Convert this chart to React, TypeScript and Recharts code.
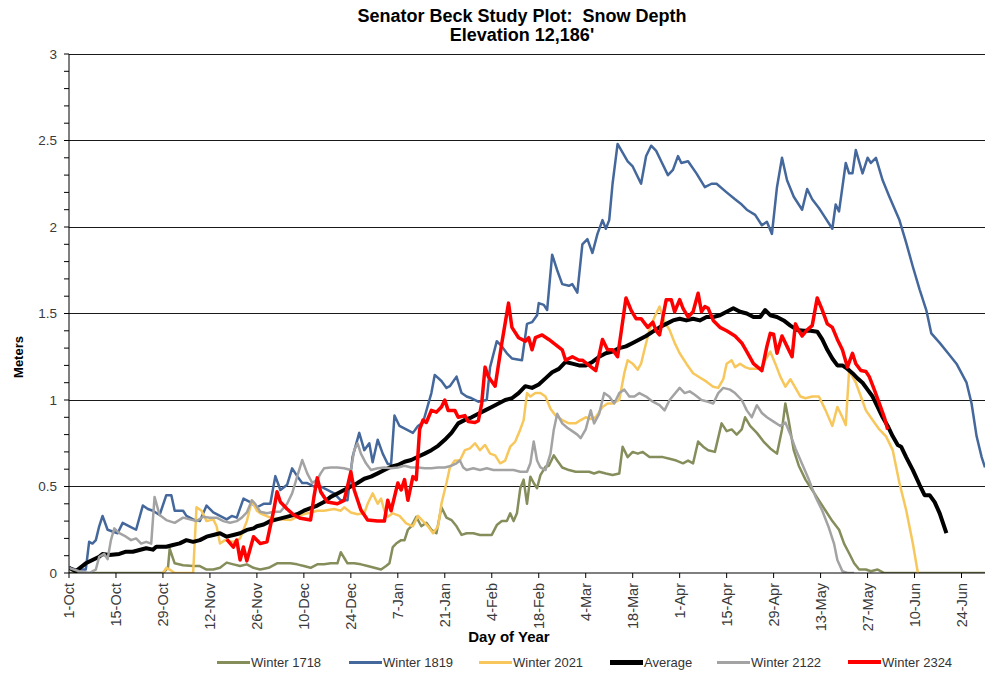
import React from 'react';
import { LineChart, Line, XAxis, YAxis, Legend, ReferenceLine, Label } from 'recharts';

// Snow depth readings at the Senator Beck study plot: [day of season (0 = 1-Oct), depth in meters]
type Reading = [number, number];

const winter1718: Reading[] = [
  [0, 0], [10, 0], [20, 0], [28, 0], [29.5, 0.03], [30, 0.14], [31.5, 0.056], [34, 0.045], [37, 0.04], [39, 0.04],
  [41, 0.02], [43, 0.02], [45, 0.03], [47, 0.06], [49, 0.05], [51, 0.04], [53, 0.05], [55, 0.03], [57, 0.02], [59.5, 0.03],
  [62, 0.056], [64, 0.056], [66, 0.056], [68, 0.05], [70, 0.04], [72, 0.03], [74, 0.05], [76, 0.05], [78, 0.056], [80, 0.056],
  [81, 0.12], [83, 0.056], [85, 0.056], [87, 0.05], [89, 0.04], [91, 0.03], [93, 0.02], [94.5, 0.04], [95.5, 0.056], [96.5, 0.15],
  [97.5, 0.17], [99, 0.19], [100, 0.19], [101, 0.25], [102, 0.27], [103.5, 0.325], [105, 0.27], [106.5, 0.29], [108, 0.25], [109.5, 0.23],
  [111, 0.38], [112.5, 0.32], [114, 0.306], [115.5, 0.27], [117, 0.22], [118.5, 0.23], [120.5, 0.23], [122.5, 0.22], [124.5, 0.22], [126, 0.22],
  [127.5, 0.277], [129, 0.3], [130.5, 0.3], [131.5, 0.345], [132.5, 0.3], [133.5, 0.345], [134.5, 0.49], [135.5, 0.54], [136.5, 0.4], [137.5, 0.557],
  [138.5, 0.52], [139.5, 0.49], [140.5, 0.566], [142, 0.614], [143, 0.62], [144.5, 0.68], [145.5, 0.65], [147, 0.61], [149, 0.595], [151, 0.585],
  [153, 0.585], [155, 0.585], [156.5, 0.575], [158, 0.585], [160, 0.575], [162, 0.566], [164, 0.575], [165, 0.73], [166.5, 0.67], [168, 0.7],
  [169.5, 0.69], [171, 0.7], [173, 0.67], [175, 0.67], [177, 0.67], [179, 0.66], [181, 0.65], [183, 0.634], [184.5, 0.65], [186, 0.634],
  [187.5, 0.76], [189, 0.73], [190.5, 0.71], [192.5, 0.7], [194.5, 0.865], [196, 0.82], [197.5, 0.83], [199, 0.8], [200.5, 0.83], [201.5, 0.9],
  [203, 0.85], [205, 0.81], [207, 0.76], [209, 0.72], [211, 0.69], [212.5, 0.83], [213.5, 0.98], [214.5, 0.88], [216, 0.71], [217.5, 0.62],
  [219.5, 0.54], [221.5, 0.48], [223.5, 0.42], [225.5, 0.36], [227.5, 0.3], [229.5, 0.25], [231, 0.17], [232.5, 0.114], [234, 0.056], [235.5, 0.02],
  [237.5, 0.02], [239, 0.01], [241, 0.02], [243, 0], [273, 0],
];

const winter1819: Reading[] = [
  [0, 0.03], [2, 0.02], [5, 0.02], [6, 0.18], [7, 0.17], [8, 0.19], [9, 0.27], [10, 0.33], [11.5, 0.25], [13, 0.24],
  [14.5, 0.23], [16, 0.29], [18, 0.27], [20, 0.25], [22, 0.39], [23.5, 0.37], [25, 0.36], [27, 0.335], [29, 0.45], [30.5, 0.45],
  [31.5, 0.36], [34, 0.36], [35, 0.33], [37, 0.31], [39, 0.3], [41, 0.39], [43, 0.35], [45, 0.33], [47, 0.31], [48.5, 0.33],
  [50, 0.32], [52, 0.43], [54, 0.41], [56, 0.38], [58, 0.4], [60, 0.4], [61.5, 0.56], [63, 0.48], [65, 0.51], [66.5, 0.605],
  [68, 0.56], [69.5, 0.52], [71, 0.52], [73, 0.5], [75, 0.5], [77, 0.48], [79, 0.46], [81, 0.42], [83, 0.42], [84.5, 0.67],
  [86.5, 0.81], [88, 0.71], [89.5, 0.75], [90.5, 0.64], [92, 0.77], [93.5, 0.69], [95, 0.63], [96, 0.63], [97, 0.91], [98.5, 0.85],
  [100.5, 0.83], [102.5, 0.81], [104, 0.85], [105.5, 0.87], [108, 1.04], [109, 1.145], [111, 1.11], [112.5, 1.07], [113.5, 1.08], [115.5, 1.135],
  [117, 1.04], [118.5, 1.02], [120, 1.01], [122, 0.99], [124.5, 1.0], [125.5, 1.19], [127.5, 1.34], [129, 1.31], [130.5, 1.27], [132, 1.24],
  [135, 1.23], [136.5, 1.44], [138, 1.45], [139.5, 1.49], [140, 1.56], [141.5, 1.55], [142.5, 1.52], [144, 1.84], [145.5, 1.75], [147, 1.67],
  [149, 1.66], [150, 1.67], [151.5, 1.62], [153, 1.9], [154.5, 1.93], [156, 1.85], [157.5, 1.96], [159, 2.04], [160, 1.99], [161, 2.04],
  [162, 2.25], [163.5, 2.48], [165, 2.43], [166.5, 2.38], [168, 2.35], [170.5, 2.25], [172, 2.41], [173.5, 2.47], [175, 2.44], [176.5, 2.38],
  [178.5, 2.3], [180, 2.33], [181.5, 2.41], [182.5, 2.37], [184.5, 2.38], [187, 2.31], [189.5, 2.23], [191.5, 2.25], [193, 2.25], [196, 2.2],
  [198.5, 2.16], [200.5, 2.13], [202, 2.1], [204.5, 2.07], [206.5, 2.01], [208, 2.03], [209.5, 1.96], [211, 2.23], [212.5, 2.4], [214, 2.27],
  [216, 2.175], [218.5, 2.1], [220, 2.22], [221.5, 2.16], [223.5, 2.11], [224.5, 2.08], [227.5, 1.99], [228.5, 2.13], [229.5, 2.09], [231.5, 2.37],
  [232.5, 2.31], [233.5, 2.31], [234.5, 2.445], [236.5, 2.31], [238, 2.4], [239, 2.37], [240.5, 2.4], [242.5, 2.27], [244.5, 2.175], [247.5, 2.04],
  [249.5, 1.91], [251.5, 1.77], [253.5, 1.64], [255.5, 1.52], [257, 1.385], [259.5, 1.33], [262, 1.27], [264.5, 1.21], [267.5, 1.1], [269, 0.98],
  [270.5, 0.79], [272, 0.67], [273, 0.61],
];

const winter2021: Reading[] = [
  [28, 0], [29, 0.03], [30, 0.02], [31.5, 0], [37, 0], [38, 0.38], [39.5, 0.36], [41, 0.3], [43, 0.31], [44, 0.27],
  [45, 0.17], [46.5, 0.19], [49, 0.18], [51, 0.2], [53, 0.3], [54.5, 0.42], [56, 0.36], [57, 0.345], [60, 0.32], [63, 0.31],
  [66, 0.306], [69, 0.335], [72, 0.35], [74, 0.36], [76, 0.36], [79, 0.37], [81, 0.36], [82, 0.38], [84, 0.35], [86, 0.34],
  [88, 0.345], [89, 0.4], [90.5, 0.46], [92, 0.4], [93, 0.43], [94, 0.36], [95, 0.325], [96.5, 0.345], [98.5, 0.33], [100.5, 0.287],
  [102.5, 0.27], [104, 0.33], [105.5, 0.3], [107, 0.27], [108.5, 0.23], [110, 0.27], [111, 0.4], [112.5, 0.52], [113.5, 0.61], [115, 0.65],
  [116.5, 0.65], [118, 0.71], [119.5, 0.72], [121, 0.75], [122.5, 0.71], [124, 0.74], [125.5, 0.69], [127, 0.68], [128.5, 0.634], [130, 0.65],
  [131.5, 0.73], [133, 0.76], [134.5, 0.83], [135.5, 0.884], [136.5, 1.04], [137.5, 1.02], [139, 1.04], [140.5, 1.04], [142, 1.02], [143.5, 0.95],
  [145, 0.91], [147, 0.884], [149, 0.865], [151, 0.865], [152.5, 0.884], [154, 0.9], [155.5, 0.89], [157, 0.9], [159, 0.96], [160.5, 0.98],
  [162, 0.98], [164, 1.0], [165.5, 1.155], [166.5, 1.23], [168, 1.21], [169.5, 1.175], [170.5, 1.21], [171.5, 1.29], [173, 1.405], [174.5, 1.48],
  [176, 1.54], [177.5, 1.45], [179, 1.405], [180.5, 1.33], [182, 1.27], [184, 1.21], [186, 1.155], [188, 1.13], [190, 1.106], [192, 1.077],
  [193.5, 1.07], [195, 1.12], [196, 1.21], [197.5, 1.23], [198.5, 1.19], [200, 1.21], [201.5, 1.19], [203, 1.18], [205, 1.18], [206.5, 1.19],
  [207.5, 1.23], [209, 1.28], [210.5, 1.21], [212, 1.135], [213.5, 1.077], [215, 1.12], [216.5, 1.07], [218, 1.02], [219.5, 1.01], [221.5, 1.02],
  [223.5, 1.02], [225.5, 0.94], [227.5, 0.85], [229, 0.96], [230.5, 0.9], [231.5, 0.855], [232.5, 1.17], [234.5, 1.1], [236, 1.02], [237.5, 0.94],
  [239.5, 0.884], [241.5, 0.83], [243.5, 0.79], [245.5, 0.71], [247.5, 0.52], [249.5, 0.364], [251.5, 0.17], [253, 0],
];

const average: Reading[] = [
  [0, 0.03], [2, 0.01], [5, 0.056], [7, 0.075], [9, 0.094], [10, 0.11], [12, 0.104], [15, 0.11], [17, 0.123], [19, 0.123],
  [21, 0.133], [23, 0.143], [25, 0.135], [26, 0.152], [29, 0.152], [31, 0.162], [33, 0.171], [35, 0.19], [37, 0.18], [39, 0.19],
  [41, 0.21], [43, 0.22], [45, 0.23], [47, 0.21], [49, 0.22], [51, 0.23], [53, 0.249], [55, 0.258], [56, 0.27], [58, 0.28],
  [60, 0.3], [62, 0.31], [64, 0.32], [66, 0.33], [68, 0.34], [70, 0.36], [72, 0.375], [74, 0.39], [76, 0.41], [78, 0.44],
  [80, 0.46], [82, 0.48], [84, 0.5], [86, 0.52], [88, 0.545], [90, 0.557], [92, 0.576], [94, 0.595], [96, 0.614], [98, 0.624],
  [100, 0.643], [102, 0.653], [104, 0.672], [106, 0.69], [108, 0.71], [110, 0.735], [112, 0.77], [114, 0.81], [116, 0.865], [118, 0.885],
  [120, 0.9], [122, 0.92], [124, 0.94], [126, 0.96], [128, 0.98], [130, 1.0], [132, 1.01], [134, 1.04], [136, 1.08], [138, 1.07],
  [140, 1.09], [142, 1.125], [144, 1.16], [146, 1.18], [148, 1.22], [150, 1.21], [152, 1.2], [154, 1.2], [156, 1.22], [158, 1.25],
  [160, 1.27], [162, 1.28], [164, 1.3], [166, 1.31], [168, 1.33], [170, 1.35], [172, 1.37], [174, 1.395], [176, 1.42], [178, 1.44],
  [180, 1.46], [182, 1.47], [184, 1.46], [186, 1.47], [188, 1.46], [190, 1.48], [192, 1.48], [194, 1.49], [196, 1.51], [198, 1.53],
  [200, 1.51], [202, 1.5], [204, 1.48], [206, 1.48], [207.5, 1.52], [209, 1.49], [211, 1.48], [213, 1.46], [215, 1.43], [217, 1.405],
  [219, 1.4], [221, 1.4], [223, 1.395], [224.5, 1.35], [226, 1.29], [227.5, 1.24], [229, 1.2], [230.5, 1.2], [232, 1.18], [233.5, 1.155],
  [235, 1.125], [236.5, 1.1], [238, 1.06], [239.5, 1.02], [241, 0.96], [242.5, 0.9], [244, 0.85], [245.5, 0.79], [247, 0.74], [248, 0.73],
  [249.5, 0.67], [251.5, 0.595], [253.5, 0.51], [255, 0.45], [256.5, 0.45], [258, 0.41], [259.5, 0.345], [261.5, 0.23],
];

const winter2122: Reading[] = [
  [0, 0.03], [3, 0.01], [6, 0], [8, 0.02], [9, 0.094], [10.5, 0.11], [11.5, 0.08], [12.5, 0.19], [13.5, 0.258], [15, 0.23],
  [17, 0.21], [18.5, 0.19], [20, 0.2], [21.5, 0.17], [23, 0.18], [24.5, 0.17], [25.5, 0.44], [27, 0.335], [29, 0.306], [31.5, 0.29],
  [34, 0.32], [36, 0.31], [38, 0.3], [40, 0.325], [42, 0.32], [44, 0.32], [46, 0.3], [48, 0.29], [50, 0.3], [51.5, 0.32],
  [53, 0.35], [54.5, 0.42], [55.5, 0.4], [57, 0.354], [59, 0.345], [61, 0.354], [63, 0.354], [65, 0.4], [66.5, 0.46], [68, 0.557],
  [69.5, 0.653], [71, 0.576], [72.5, 0.52], [74, 0.54], [75, 0.576], [76, 0.605], [78, 0.61], [80, 0.61], [82, 0.605], [84, 0.595],
  [85, 0.71], [86, 0.75], [87, 0.69], [88.5, 0.634], [90, 0.595], [92, 0.605], [94, 0.61], [96, 0.605], [98, 0.61], [100, 0.62],
  [102, 0.61], [104, 0.61], [106, 0.605], [108, 0.605], [110, 0.61], [112, 0.61], [114, 0.62], [115.5, 0.634], [116.5, 0.65], [117.5, 0.61],
  [118.5, 0.595], [120.5, 0.605], [122.5, 0.595], [124.5, 0.605], [126.5, 0.595], [128.5, 0.595], [130.5, 0.595], [132.5, 0.595], [134.5, 0.585], [136.5, 0.585],
  [137.5, 0.634], [138.5, 0.76], [139.5, 0.65], [140.5, 0.61], [142, 0.595], [143.5, 0.69], [144.5, 0.83], [145.5, 0.92], [147, 0.865], [148.5, 0.84],
  [150, 0.82], [151.5, 0.8], [152.5, 0.78], [154, 0.83], [155.5, 0.94], [156.5, 0.865], [158, 0.92], [159.5, 1.04], [161, 1.02], [162.5, 0.98],
  [164, 1.04], [165.5, 1.06], [167, 1.02], [168.5, 1.02], [170, 1.04], [172, 1.02], [174, 0.99], [176, 0.97], [177.5, 0.94], [179, 1.0],
  [182, 1.07], [183.5, 1.04], [185, 1.05], [186.5, 1.03], [188.5, 1.0], [190.5, 0.99], [192, 0.98], [193.5, 1.04], [195, 1.07], [197, 1.06],
  [198.5, 1.04], [200.5, 1.0], [202, 0.94], [203.5, 0.9], [205, 0.97], [206.5, 0.925], [208, 0.9], [210, 0.875], [212, 0.85], [213.5, 0.87],
  [215, 0.8], [216.5, 0.72], [218.5, 0.63], [220.5, 0.54], [222.5, 0.44], [224.5, 0.36], [226.5, 0.26], [228, 0.17], [229, 0.075], [230.5, 0.01],
  [232, 0], [234, 0],
];

const winter2324: Reading[] = [
  [47, 0.195], [49, 0.15], [50, 0.19], [51, 0.075], [52, 0.15], [53, 0.07], [55, 0.21], [57, 0.17], [59, 0.18], [61, 0.36],
  [62, 0.47], [63, 0.41], [65, 0.37], [67, 0.335], [69, 0.316], [72, 0.306], [73, 0.44], [74, 0.55], [75, 0.47], [77, 0.41],
  [80, 0.4], [82, 0.42], [83, 0.5], [84, 0.585], [85, 0.48], [87, 0.364], [89, 0.306], [92, 0.3], [94, 0.3], [95, 0.42],
  [96, 0.36], [98, 0.52], [99, 0.48], [100, 0.54], [101, 0.42], [102.5, 0.557], [103.5, 0.54], [104.5, 0.83], [105.5, 0.884], [106.5, 0.87],
  [108, 0.94], [109.5, 0.93], [111, 0.96], [112, 1.0], [113, 0.94], [115, 0.94], [116, 0.9], [118, 0.91], [119, 0.875], [121, 0.87],
  [122, 0.88], [123, 0.98], [124, 1.19], [125, 1.135], [127, 1.08], [129, 1.33], [131, 1.56], [132, 1.42], [134, 1.36], [136, 1.34],
  [137, 1.36], [138, 1.29], [139, 1.36], [141, 1.376], [143, 1.35], [145, 1.32], [147, 1.29], [148, 1.23], [150, 1.25], [152, 1.23],
  [153, 1.23], [155, 1.2], [157, 1.17], [159, 1.35], [160.5, 1.29], [162, 1.29], [163.5, 1.25], [164.5, 1.385], [166, 1.59], [167.5, 1.52],
  [169, 1.47], [170.5, 1.47], [172.5, 1.42], [174, 1.45], [175, 1.4], [176, 1.376], [177, 1.48], [178, 1.58], [179.5, 1.58], [180.5, 1.51],
  [182, 1.58], [183, 1.53], [184.5, 1.48], [186, 1.51], [187.5, 1.617], [188.5, 1.51], [189.5, 1.54], [190.5, 1.53], [192, 1.46], [194, 1.42],
  [196, 1.4], [198.5, 1.37], [200.5, 1.33], [202, 1.28], [204, 1.21], [206.5, 1.17], [208, 1.31], [209, 1.385], [210, 1.38], [211, 1.27],
  [212.5, 1.37], [214, 1.31], [215.5, 1.25], [216.5, 1.44], [217.5, 1.4], [218.5, 1.37], [220, 1.405], [221.5, 1.43], [223, 1.59], [224.5, 1.52],
  [226, 1.44], [227.5, 1.42], [229, 1.35], [230.5, 1.29], [232, 1.19], [233.5, 1.27], [234.5, 1.21], [236, 1.17], [237.5, 1.165], [238.5, 1.135],
  [240, 1.06], [241.5, 0.98], [243, 0.9], [244, 0.83],
];

// Axis ticks: every 14 days from 1-Oct
const tickDays = [0, 14, 28, 42, 56, 70, 84, 98, 112, 126, 140, 154, 168, 182, 196, 210, 224, 238, 252, 266];
const tickLabels = [
  '1-Oct', '15-Oct', '29-Oct', '12-Nov', '26-Nov', '10-Dec', '24-Dec', '7-Jan', '21-Jan', '4-Feb',
  '18-Feb', '4-Mar', '18-Mar', '1-Apr', '15-Apr', '29-Apr', '13-May', '27-May', '10-Jun', '24-Jun',
];
const depthTicks = Array.from({ length: 31 }, (_, i) => i / 10);
const gridDepths = [0.5, 1, 1.5, 2, 2.5, 3];

const FONT = '"Liberation Sans", Arial, Helvetica, sans-serif';

const series = [
  { key: 'w1718', name: 'Winter 1718', color: '#858d5b', width: 2.5, swatch: 3, readings: winter1718 },
  { key: 'w1819', name: 'Winter 1819', color: '#44679c', width: 2.5, swatch: 3, readings: winter1819 },
  { key: 'w2021', name: 'Winter 2021', color: '#f7c75c', width: 2.5, swatch: 3, readings: winter2021 },
  { key: 'avg', name: 'Average', color: '#000000', width: 4, swatch: 5, readings: average },
  { key: 'w2122', name: 'Winter 2122', color: '#a3a3a3', width: 2.5, swatch: 3, readings: winter2122 },
  { key: 'w2324', name: 'Winter 2324', color: '#ff0000', width: 3.5, swatch: 4, readings: winter2324 },
];

const legendWidths = [132, 130, 131, 107, 131, 120];

const toRows = (readings: Reading[]) => readings.map(([day, depth]) => ({ day, depth }));

const DayTick = (props: any) => {
  const { x, y, payload } = props;
  const label = tickLabels[tickDays.indexOf(payload.value)] ?? '';
  return (
    <text
      x={x}
      y={y}
      dy="0.36em"
      transform={`rotate(-90 ${x} ${y})`}
      textAnchor="end"
      fontSize={14.5}
      fontFamily={FONT}
      fill="#3a3a3a"
    >
      {label}
    </text>
  );
};

const DepthTick = (props: any) => {
  const { x, y, payload } = props;
  const tenths = Math.round(payload.value * 10);
  if (tenths % 5 !== 0) return <g />;
  return (
    <text x={x} y={y} dy="0.36em" textAnchor="end" fontSize={13.5} fontFamily={FONT} fill="#3a3a3a">
      {String(tenths / 10)}
    </text>
  );
};

const LegendRow = () => (
  <div style={{ display: 'flex', height: 22, alignItems: 'center', paddingLeft: 217, fontFamily: FONT, fontSize: 13, color: '#333' }}>
    {series.map((s, i) => (
      <div key={s.key} style={{ display: 'flex', alignItems: 'center', width: legendWidths[i], flex: 'none' }}>
        <span style={{ display: 'inline-block', width: 33, height: s.swatch, background: s.color, flex: 'none' }} />
        <span style={{ marginLeft: 1, whiteSpace: 'nowrap' }}>{s.name}</span>
      </div>
    ))}
  </div>
);

export default function App() {
  return (
    <div style={{ position: 'absolute', left: 0, top: 0, width: 985, height: 677, background: '#fff', overflow: 'hidden' }}>
      <div
        style={{
          position: 'absolute',
          left: 522,
          top: 7,
          transform: 'translateX(-50%)',
          textAlign: 'center',
          fontFamily: FONT,
          fontWeight: 'bold',
          fontSize: 18,
          lineHeight: '19px',
          whiteSpace: 'pre',
          color: '#000',
        }}
      >
        <div>{'Senator Beck Study Plot:  Snow Depth'}</div>
        <div>{"Elevation 12,186'"}</div>
      </div>
      <LineChart width={985} height={677} margin={{ top: 54, right: 0, bottom: 4, left: 0 }}>
        <XAxis
          dataKey="day"
          type="number"
          domain={[0, 273]}
          ticks={tickDays}
          interval={0}
          height={78}
          stroke="#000"
          tickSize={5}
          tickMargin={5}
          tick={<DayTick />}
          allowDataOverflow
        >
          <Label
            content={() => (
              <text x={509} y={642} textAnchor="middle" fontFamily={FONT} fontWeight="bold" fontSize={15} fill="#000">
                Day of Year
              </text>
            )}
          />
        </XAxis>
        <YAxis
          type="number"
          domain={[0, 3]}
          ticks={depthTicks}
          interval={0}
          width={69}
          stroke="#000"
          tickSize={5}
          tickMargin={7}
          tick={<DepthTick />}
          allowDataOverflow
        >
          <Label
            content={() => (
              <text
                x={18}
                y={357}
                transform="rotate(-90 18 357)"
                dy="0.35em"
                textAnchor="middle"
                fontFamily={FONT}
                fontWeight="bold"
                fontSize={13}
                fill="#000"
              >
                Meters
              </text>
            )}
          />
        </YAxis>
        {gridDepths.map((d) => (
          <ReferenceLine key={d} y={d} stroke="#1a1a1a" strokeWidth={1} shapeRendering="crispEdges" />
        ))}
        {series.map((s) => (
          <Line
            key={s.key}
            data={toRows(s.readings)}
            dataKey="depth"
            name={s.name}
            type="linear"
            stroke={s.color}
            strokeWidth={s.width}
            strokeLinejoin="round"
            dot={false}
            activeDot={false}
            isAnimationActive={false}
          />
        ))}
        <Legend verticalAlign="bottom" height={22} content={() => <LegendRow />} />
      </LineChart>
    </div>
  );
}
